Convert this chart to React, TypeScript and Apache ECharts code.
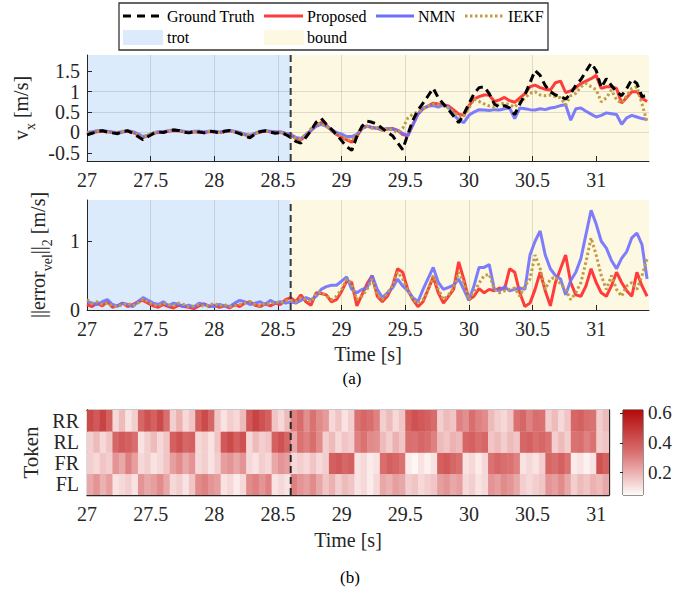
import React, { useEffect, useRef } from "react";
import * as echarts from "echarts";

// ---------------- data ----------------
const T0 = 27; // first sample time [s]
const DT = 0.04; // sample step [s]
const PHASE_SWITCH = 28.6;
const X_MIN = 27;
const X_MAX = 31.415;
const X_TICKS = [27, 27.5, 28, 28.5, 29, 29.5, 30, 30.5, 31];
const VX_MIN = -0.7;
const VX_MAX = 1.9;
const VX_TICKS = [-0.5, 0, 0.5, 1, 1.5];
const ERR_MIN = 0;
const ERR_MAX = 1.6;
const ERR_TICKS = [0, 1];
const PHASES = [
  [27, 28.6, 0],
  [28.6, 31.42, 1],
];

const GT = [
  -0.06, -0.02, 0.03, 0.04, 0.01, -0.01, -0.03, 0.02, 0.04, -0.02, -0.1, -0.18, -0.1, -0.03, 0.01, 0.0, 0.04, 0.06, 0.05, 0.01,
  -0.01, 0.02, 0.01, -0.01, 0.03, 0.02, -0.02, 0.03, 0.05, 0.01, -0.03, -0.09, -0.13, -0.04, 0.02, 0.04, 0.01, -0.02, 0.0, -0.05,
  -0.12, -0.22, -0.26, -0.12, 0.05, 0.25, 0.34, 0.2, 0.08, -0.05, -0.2, -0.35, -0.44, -0.1, 0.15, 0.28, 0.25, 0.2, 0.1, 0.0,
  -0.08, -0.25, -0.42, -0.05, 0.3, 0.55, 0.72, 0.9, 1.08, 0.85, 0.7, 0.56, 0.4, 0.24, 0.45, 0.7, 0.95, 1.1, 1.12, 0.95,
  0.7, 0.62, 0.66, 0.6, 0.44, 0.7, 0.92, 1.22, 1.52, 1.4, 1.15, 1.0, 0.92, 0.88, 0.82, 0.95, 1.16, 1.3, 1.5, 1.7,
  1.52, 1.1, 1.32, 1.15, 1.0, 0.9, 1.08, 1.3, 1.2, 0.88, 0.9,
];
const PROPOSED = [
  -0.03, 0.0, 0.02, 0.03, 0.02, 0.0, -0.01, 0.01, 0.03, 0.0, -0.06, -0.12, -0.08, -0.02, 0.0, 0.01, 0.03, 0.05, 0.04, 0.02,
  0.0, 0.01, 0.02, 0.0, 0.02, 0.02, 0.0, 0.02, 0.04, 0.02, -0.01, -0.06, -0.09, -0.03, 0.01, 0.03, 0.02, 0.0, 0.0, -0.03,
  -0.05, -0.15, -0.18, -0.08, 0.05, 0.18, 0.24, 0.18, 0.05, -0.05, -0.12, -0.18, -0.24, -0.1, 0.1, 0.16, 0.12, 0.1, 0.06, 0.08,
  0.1, 0.05, -0.05, -0.08, 0.2, 0.45, 0.58, 0.65, 0.72, 0.7, 0.68, 0.65, 0.55, 0.45, 0.42, 0.65, 0.82, 0.88, 0.92, 0.92,
  0.76, 0.8, 0.86, 0.78, 0.74, 0.85, 0.95, 1.12, 1.16, 1.1, 1.06, 1.04, 1.22, 1.26, 0.98, 1.02, 1.1, 1.2, 1.26, 1.32,
  1.4, 1.08, 1.12, 1.12, 1.08, 0.72, 0.86, 1.0, 1.0, 0.84, 0.76,
];
const NMN = [
  0.0, 0.02, 0.04, 0.05, 0.03, 0.01, 0.0, 0.02, 0.04, 0.02, -0.03, -0.1, -0.07, -0.01, 0.02, 0.02, 0.04, 0.06, 0.05, 0.03,
  0.01, 0.03, 0.03, 0.01, 0.03, 0.03, 0.01, 0.03, 0.05, 0.03, 0.0, -0.04, -0.07, -0.02, 0.03, 0.04, 0.03, 0.02, 0.02, -0.02,
  -0.05, -0.12, -0.15, -0.05, 0.05, 0.15, 0.2, 0.15, 0.08, 0.0, -0.04, -0.1, -0.1, -0.05, 0.1, 0.15, 0.12, 0.1, 0.08, 0.1,
  0.08, 0.05, -0.02, -0.08, 0.18, 0.45, 0.6, 0.64, 0.66, 0.62, 0.68, 0.62, 0.45, 0.3, 0.24, 0.42, 0.5, 0.56, 0.55, 0.54,
  0.56, 0.55, 0.58, 0.6, 0.34, 0.6, 0.58, 0.56, 0.55, 0.58, 0.56, 0.6, 0.62, 0.66, 0.68, 0.3, 0.58, 0.6, 0.52, 0.45,
  0.38, 0.42, 0.48, 0.46, 0.44, 0.2, 0.36, 0.42, 0.38, 0.34, 0.32,
];
const IEKF = [
  -0.02, 0.01, 0.04, 0.03, 0.02, -0.01, 0.0, 0.03, 0.04, 0.01, -0.05, -0.12, -0.06, -0.01, 0.02, 0.0, 0.04, 0.07, 0.05, 0.02,
  0.0, 0.02, 0.03, -0.01, 0.03, 0.01, 0.0, 0.03, 0.05, 0.01, -0.02, -0.05, -0.08, -0.02, 0.02, 0.04, 0.02, 0.0, 0.01, -0.04,
  -0.05, -0.15, -0.16, -0.05, 0.1, 0.2, 0.22, 0.15, 0.05, -0.05, -0.1, -0.16, -0.2, -0.05, 0.12, 0.15, 0.1, 0.12, 0.05, 0.1,
  0.05, 0.0, 0.1, 0.35, 0.45, 0.5, 0.58, 0.65, 0.7, 0.68, 0.65, 0.6, 0.5, 0.4, 0.4, 0.6, 0.82, 0.76, 0.7, 0.65,
  0.62, 0.7, 0.72, 0.68, 0.62, 0.76, 0.84, 0.96, 1.0, 0.92, 0.9, 0.92, 0.88, 0.85, 0.68, 0.9, 0.96, 1.12, 1.2, 1.12,
  1.05, 0.75, 0.85, 1.04, 0.8, 0.72, 0.9, 1.08, 1.12, 0.7, 0.26,
];

const ERR_PROPOSED = [
  0.08, 0.05, 0.1, 0.06, 0.12, 0.04, 0.06, 0.1, 0.05, 0.08, 0.12, 0.14, 0.1, 0.06, 0.04, 0.08, 0.05, 0.03, 0.07, 0.05,
  0.04, 0.02, 0.06, 0.09, 0.05, 0.07, 0.04, 0.06, 0.03, 0.08, 0.05, 0.1, 0.12, 0.07, 0.05, 0.09, 0.06, 0.1, 0.08, 0.15,
  0.18, 0.12, 0.22, 0.12, 0.07, 0.25, 0.24, 0.22, 0.12, 0.15, 0.27, 0.42, 0.4, 0.06, 0.22, 0.38, 0.5, 0.2, 0.12, 0.2,
  0.35, 0.6, 0.55, 0.3, 0.15, 0.05, 0.12, 0.3, 0.48, 0.25, 0.1, 0.2, 0.3, 0.7, 0.45, 0.15, 0.2, 0.31, 0.25, 0.3,
  0.28, 0.32, 0.3, 0.6, 0.55, 0.25, 0.05, 0.1, 0.3, 0.55, 0.28, 0.06, 0.4, 0.6, 0.8, 0.4, 0.22, 0.2, 0.35, 0.6,
  0.4, 0.25, 0.2, 0.35, 0.55, 0.4, 0.28, 0.2, 0.55, 0.35, 0.2,
];
const ERR_NMN = [
  0.12, 0.1, 0.08, 0.12, 0.15, 0.08, 0.06, 0.1, 0.08, 0.05, 0.12, 0.18, 0.14, 0.1, 0.08, 0.12, 0.06, 0.1, 0.08, 0.05,
  0.07, 0.04, 0.1, 0.08, 0.06, 0.05, 0.08, 0.06, 0.05, 0.1, 0.14, 0.12, 0.08, 0.1, 0.12, 0.08, 0.14, 0.1, 0.12, 0.1,
  0.12, 0.1, 0.14, 0.18, 0.15, 0.2, 0.3, 0.34, 0.36, 0.36, 0.42, 0.48, 0.3, 0.25, 0.3, 0.32, 0.5, 0.3, 0.18, 0.25,
  0.32, 0.45, 0.35, 0.28, 0.18, 0.12, 0.3, 0.46, 0.62, 0.4, 0.3, 0.33, 0.36, 0.45, 0.3, 0.14, 0.35, 0.62, 0.62, 0.66,
  0.3, 0.28, 0.34, 0.28, 0.3, 0.32, 0.3, 0.8, 1.0, 1.15, 0.8, 0.6, 0.5, 0.45, 0.22, 0.43, 0.55, 0.75, 1.1, 1.45,
  1.25, 1.0, 0.9, 0.72, 0.6, 0.75, 0.85, 1.05, 1.12, 0.95, 0.45,
];
const ERR_IEKF = [
  0.15, 0.1, 0.12, 0.08, 0.1, 0.06, 0.05, 0.08, 0.1, 0.06, 0.1, 0.16, 0.12, 0.08, 0.06, 0.1, 0.08, 0.06, 0.1, 0.08,
  0.05, 0.06, 0.08, 0.05, 0.07, 0.1, 0.06, 0.08, 0.05, 0.06, 0.08, 0.1, 0.12, 0.08, 0.06, 0.1, 0.08, 0.12, 0.1, 0.14,
  0.14, 0.12, 0.18, 0.15, 0.12, 0.24, 0.26, 0.2, 0.15, 0.2, 0.3, 0.45, 0.38, 0.15, 0.2, 0.3, 0.45, 0.22, 0.15, 0.25,
  0.35, 0.55, 0.45, 0.28, 0.15, 0.1, 0.15, 0.3, 0.5, 0.3, 0.15, 0.22, 0.32, 0.55, 0.4, 0.15, 0.25, 0.39, 0.5, 0.52,
  0.3, 0.25, 0.28, 0.3, 0.32, 0.2, 0.35, 0.45, 0.8, 0.6, 0.3, 0.45, 0.48, 0.38, 0.3, 0.15, 0.25, 0.4, 0.7, 1.05,
  0.8, 0.5, 0.3, 0.5, 0.3, 0.2, 0.35, 0.4, 0.3, 0.5, 0.75,
];

// heatmap (attention per token), columns of 0.05 s from 27.0 s
const HM_T0 = 27;
const HM_DT = 0.05;
const HM_X_MAX = 31.1;
const TOKENS = ["FL", "FR", "RL", "RR"]; // bottom -> top
const ATT_RR = [
  0.44, 0.4, 0.46, 0.38, 0.12, 0.18, 0.1, 0.14, 0.36, 0.42, 0.38, 0.44, 0.34, 0.14, 0.2, 0.12, 0.16, 0.38, 0.44, 0.36,
  0.16, 0.1, 0.14, 0.12, 0.18, 0.4, 0.46, 0.42, 0.38, 0.16, 0.12, 0.18, 0.3, 0.35, 0.27, 0.33, 0.28, 0.25, 0.12, 0.16,
  0.1, 0.14, 0.33, 0.36, 0.34, 0.3, 0.14, 0.18, 0.12, 0.16, 0.38, 0.42, 0.4, 0.38, 0.35, 0.14, 0.18, 0.16, 0.3, 0.27,
  0.34, 0.3, 0.28, 0.18, 0.14, 0.12, 0.16, 0.33, 0.36, 0.3, 0.34, 0.33, 0.14, 0.18, 0.12, 0.16, 0.36, 0.38, 0.34, 0.33,
  0.14, 0.18,
];
const ATT_RL = [
  0.14, 0.18, 0.12, 0.16, 0.36, 0.4, 0.38, 0.34, 0.1, 0.14, 0.18, 0.12, 0.16, 0.38, 0.42, 0.36, 0.38, 0.12, 0.14, 0.1,
  0.16, 0.4, 0.44, 0.38, 0.42, 0.12, 0.18, 0.14, 0.16, 0.38, 0.42, 0.36, 0.22, 0.33, 0.3, 0.34, 0.28, 0.14, 0.18, 0.12,
  0.16, 0.14, 0.3, 0.33, 0.28, 0.27, 0.18, 0.14, 0.2, 0.16, 0.34, 0.33, 0.36, 0.34, 0.3, 0.18, 0.16, 0.2, 0.18, 0.36,
  0.38, 0.34, 0.36, 0.16, 0.18, 0.14, 0.18, 0.16, 0.36, 0.38, 0.34, 0.36, 0.33, 0.14, 0.18, 0.14, 0.33, 0.34, 0.3, 0.33,
  0.14, 0.16,
];
const ATT_FR = [
  0.14, 0.12, 0.16, 0.14, 0.26, 0.22, 0.3, 0.24, 0.12, 0.14, 0.1, 0.12, 0.16, 0.24, 0.28, 0.22, 0.26, 0.12, 0.14, 0.1,
  0.14, 0.24, 0.26, 0.22, 0.26, 0.12, 0.1, 0.14, 0.12, 0.22, 0.26, 0.24, 0.12, 0.14, 0.12, 0.16, 0.12, 0.14, 0.38, 0.4,
  0.36, 0.38, 0.1, 0.12, 0.08, 0.1, 0.34, 0.38, 0.36, 0.33, 0.08, 0.06, 0.1, 0.07, 0.1, 0.38, 0.4, 0.36, 0.34, 0.1,
  0.12, 0.08, 0.12, 0.33, 0.36, 0.34, 0.33, 0.3, 0.1, 0.12, 0.1, 0.14, 0.36, 0.34, 0.38, 0.33, 0.08, 0.1, 0.07, 0.1,
  0.42, 0.38,
];
const ATT_FL = [
  0.22, 0.26, 0.2, 0.24, 0.1, 0.12, 0.14, 0.1, 0.26, 0.22, 0.24, 0.28, 0.22, 0.12, 0.14, 0.1, 0.16, 0.28, 0.3, 0.26,
  0.24, 0.1, 0.12, 0.08, 0.12, 0.28, 0.3, 0.26, 0.3, 0.1, 0.12, 0.1, 0.3, 0.26, 0.24, 0.28, 0.22, 0.16, 0.2, 0.14,
  0.18, 0.16, 0.1, 0.12, 0.08, 0.12, 0.22, 0.2, 0.24, 0.22, 0.14, 0.16, 0.12, 0.14, 0.16, 0.24, 0.26, 0.22, 0.24, 0.12,
  0.14, 0.1, 0.12, 0.26, 0.24, 0.28, 0.26, 0.22, 0.14, 0.12, 0.14, 0.16, 0.26, 0.24, 0.28, 0.22, 0.14, 0.18, 0.16, 0.2,
  0.18, 0.22,
];
const CB_MIN = 0.05;
const CB_MAX = 0.62;
const CB_TICKS = [0.2, 0.4, 0.6];

// ---------------- styles ----------------
const FONT = "Liberation Serif, Times New Roman, serif";
const AX = "#262626";
const GRIDC = "rgba(40,40,40,0.14)";
const C_PROP = "#ff3b3b";
const C_NMN = "#6f6fff";
const C_IEKF = "#c19d42";
const C_GT = "#000000";
const C_TROT = "#dcebfb";
const C_BOUND = "#fdf8e1";
const CMAP = ["#fffafa", "#da7070", "#b20a0a"];
const FS = 20;
const LW = 3;

const pairs = (vals: number[]) => vals.map((v, i) => [+(T0 + i * DT).toFixed(3), v]);

function buildOption(): any {
  const tickStyle = { color: AX, width: 1 };
  const lineX = (gi: number, withName: boolean) => ({
    gridIndex: gi,
    type: "value",
    min: X_MIN,
    max: X_MAX,
    interval: 0.5,
    axisLine: { show: true, onZero: false, lineStyle: { color: AX, width: 1 } },
    axisTick: { show: true, inside: true, length: 5, customValues: X_TICKS, lineStyle: tickStyle },
    axisLabel: { customValues: X_TICKS, margin: 9, fontSize: FS, fontFamily: FONT, color: AX },
    splitLine: { show: true, showMinLine: false, showMaxLine: false, lineStyle: { color: GRIDC, width: 1 } },
    name: withName ? "Time [s]" : "",
    nameLocation: "middle",
    nameGap: 34,
    nameTextStyle: { fontSize: FS, fontFamily: FONT, color: AX },
  });

  const bgSeries = (gi: number) => ({
    type: "custom",
    xAxisIndex: gi,
    yAxisIndex: gi,
    z: -1,
    silent: true,
    clip: true,
    data: PHASES,
    renderItem: (params: any, api: any) => {
      const cs = params.coordSys;
      const x0 = api.coord([api.value(0), 0])[0];
      const x1 = api.coord([api.value(1), 0])[0];
      return {
        type: "rect",
        shape: { x: x0, y: cs.y, width: x1 - x0, height: cs.height },
        style: { fill: api.value(2) === 0 ? C_TROT : C_BOUND },
      };
    },
  });

  const ln = (name: string, gi: number, vals: number[], color: string, extra: any = {}) => ({
    name,
    type: "line",
    xAxisIndex: gi,
    yAxisIndex: gi,
    data: pairs(vals),
    showSymbol: false,
    symbol: "none",
    silent: true,
    lineStyle: { color, width: LW, ...extra },
    z: 3,
  });

  const switchLine = (gi: number, y0: number, y1: number, color: string) => ({
    type: "line",
    xAxisIndex: gi,
    yAxisIndex: gi,
    data: [
      [PHASE_SWITCH, y0],
      [PHASE_SWITCH, y1],
    ],
    showSymbol: false,
    symbol: "none",
    silent: true,
    lineStyle: { color, width: 2, type: [7, 4] },
    z: 6,
  });

  const hmData: number[][] = [];
  [ATT_FL, ATT_FR, ATT_RL, ATT_RR].forEach((row, r) => {
    row.forEach((v, i) => hmData.push([+(HM_T0 + i * HM_DT).toFixed(3), r, v]));
  });

  const nameRich = {
    n: { fontSize: FS, fontFamily: FONT, color: AX, padding: [0, 0, 6, 0] },
    s: { fontSize: 14, fontFamily: FONT, color: AX, verticalAlign: "bottom" },
  };

  const legendY1 = 16;
  const legendY2 = 37;
  const legText = (x: number, y: number, t: string) => ({
    type: "text",
    z: 12,
    x,
    y,
    style: { text: t, fontSize: 16, fontFamily: FONT, fill: "#000000", verticalAlign: "middle", align: "left" },
  });
  const legLine = (x1: number, x2: number, color: string, dash?: number[]) => ({
    type: "line",
    z: 12,
    shape: { x1, y1: legendY1, x2, y2: legendY1 },
    style: dash ? { stroke: color, lineWidth: LW, lineDash: dash } : { stroke: color, lineWidth: LW },
  });

  return {
    animation: false,
    backgroundColor: "#ffffff",
    textStyle: { fontFamily: FONT },
    grid: [
      { left: 87, top: 55, width: 562, height: 106 },
      { left: 87, top: 200, width: 562, height: 110 },
      { left: 87, top: 410, width: 522, height: 85 },
      { left: 623, top: 410, width: 20, height: 85, show: true, borderColor: AX, borderWidth: 1, backgroundColor: "transparent" },
    ],
    xAxis: [
      lineX(0, false),
      lineX(1, true),
      {
        gridIndex: 2,
        type: "value",
        min: X_MIN,
        max: HM_X_MAX,
        interval: 0.5,
        axisLine: { show: true, onZero: false, lineStyle: { color: AX, width: 1.3 } },
        axisTick: { show: true, inside: true, length: 5, customValues: X_TICKS, lineStyle: tickStyle },
        axisLabel: { customValues: X_TICKS, margin: 9, fontSize: FS, fontFamily: FONT, color: AX },
        splitLine: { show: false },
        name: "Time [s]",
        nameLocation: "middle",
        nameGap: 35,
        nameTextStyle: { fontSize: FS, fontFamily: FONT, color: AX },
      },
      {
        gridIndex: 2,
        type: "value",
        position: "top",
        min: X_MIN,
        max: HM_X_MAX,
        interval: 0.5,
        axisLine: { show: true, onZero: false, lineStyle: { color: AX, width: 1.3 } },
        axisTick: { show: true, inside: true, length: 5, customValues: X_TICKS, lineStyle: tickStyle },
        axisLabel: { show: false },
        splitLine: { show: false },
      },
      { gridIndex: 3, type: "value", min: 0, max: 1, show: false },
    ],
    yAxis: [
      {
        gridIndex: 0,
        type: "value",
        min: VX_MIN,
        max: VX_MAX,
        axisLine: { show: true, onZero: false, lineStyle: { color: AX, width: 1 } },
        axisTick: { show: true, inside: true, length: 5, customValues: VX_TICKS, lineStyle: tickStyle },
        axisLabel: { customValues: VX_TICKS, margin: 7, fontSize: FS, fontFamily: FONT, color: AX },
        splitLine: { show: true, showMinLine: false, showMaxLine: false, lineStyle: { color: GRIDC, width: 1 } },
        name: "{n|v}{s|x}{n| [m/s]}",
        nameLocation: "middle",
        nameRotate: 90,
        nameGap: 48,
        nameTextStyle: { rich: nameRich },
      },
      {
        gridIndex: 1,
        type: "value",
        min: ERR_MIN,
        max: ERR_MAX,
        axisLine: { show: true, onZero: false, lineStyle: { color: AX, width: 1 } },
        axisTick: { show: true, inside: true, length: 5, customValues: ERR_TICKS, lineStyle: tickStyle },
        axisLabel: { customValues: ERR_TICKS, margin: 7, fontSize: FS, fontFamily: FONT, color: AX },
        splitLine: { show: true, showMinLine: false, showMaxLine: false, lineStyle: { color: GRIDC, width: 1 } },
        name: "{n|||error}{s|vel}{n|||}{s|2}{n| [m/s]}",
        nameLocation: "middle",
        nameRotate: 90,
        nameGap: 33,
        nameTextStyle: { rich: nameRich },
      },
      {
        gridIndex: 2,
        type: "value",
        min: -0.5,
        max: 3.5,
        axisLine: { show: true, onZero: false, lineStyle: { color: AX, width: 1.3 } },
        axisTick: { show: true, inside: true, length: 5, customValues: [0, 1, 2, 3], lineStyle: tickStyle },
        axisLabel: {
          customValues: [0, 1, 2, 3],
          margin: 8,
          fontSize: FS,
          fontFamily: FONT,
          color: AX,
          formatter: (v: number) => TOKENS[Math.round(v)] ?? "",
        },
        splitLine: { show: false },
        name: "Token",
        nameLocation: "middle",
        nameRotate: 90,
        nameGap: 42,
        nameTextStyle: { fontSize: FS + 1, fontFamily: FONT, color: AX },
      },
      {
        gridIndex: 2,
        type: "value",
        position: "right",
        min: -0.5,
        max: 3.5,
        axisLine: { show: true, onZero: false, lineStyle: { color: AX, width: 1.3 } },
        axisTick: { show: true, inside: true, length: 5, customValues: [0, 1, 2, 3], lineStyle: tickStyle },
        axisLabel: { show: false },
        splitLine: { show: false },
      },
      {
        gridIndex: 3,
        type: "value",
        position: "right",
        min: CB_MIN,
        max: CB_MAX,
        axisLine: { show: false },
        axisTick: { show: true, inside: true, length: 3, customValues: CB_TICKS, lineStyle: tickStyle },
        axisLabel: { customValues: CB_TICKS, margin: 5, fontSize: 19, fontFamily: FONT, color: AX },
        splitLine: { show: false },
      },
    ],
    visualMap: [
      {
        type: "continuous",
        show: false,
        min: CB_MIN,
        max: CB_MAX,
        dimension: 2,
        seriesIndex: 9,
        inRange: { color: CMAP },
      },
    ],
    series: [
      bgSeries(0),
      bgSeries(1),
      ln("Proposed", 0, PROPOSED, C_PROP),
      ln("NMN", 0, NMN, C_NMN, { opacity: 0.9 }),
      ln("IEKF", 0, IEKF, C_IEKF, { type: [2.5, 2.5] }),
      ln("Ground Truth", 0, GT, C_GT, { type: [8, 5] }),
      ln("Proposed", 1, ERR_PROPOSED, C_PROP),
      ln("NMN", 1, ERR_NMN, C_NMN, { opacity: 0.9 }),
      ln("IEKF", 1, ERR_IEKF, C_IEKF, { type: [2.5, 2.5] }),
      {
        type: "custom",
        xAxisIndex: 2,
        yAxisIndex: 2,
        silent: true,
        clip: true,
        data: hmData,
        renderItem: (_p: any, api: any) => {
          const t = api.value(0);
          const r = api.value(1);
          const p0 = api.coord([t, r + 0.5]);
          const p1 = api.coord([t + HM_DT, r - 0.5]);
          return {
            type: "rect",
            shape: { x: p0[0], y: p0[1], width: p1[0] - p0[0] + 0.6, height: p1[1] - p0[1] + 0.3 },
            style: { fill: api.visual("color") },
          };
        },
      },
      switchLine(0, VX_MIN, VX_MAX, "#3a3a3a"),
      switchLine(1, ERR_MIN, ERR_MAX, "#3a3a3a"),
      switchLine(2, -0.5, 3.5, "#262626"),
      {
        type: "custom",
        xAxisIndex: 4,
        yAxisIndex: 4,
        silent: true,
        data: [[0, CB_MIN, CB_MAX]],
        renderItem: (_p: any, api: any) => {
          const p0 = api.coord([0, api.value(2)]);
          const p1 = api.coord([1, api.value(1)]);
          return {
            type: "rect",
            shape: { x: p0[0], y: p0[1], width: p1[0] - p0[0], height: p1[1] - p0[1] },
            style: {
              fill: new echarts.graphic.LinearGradient(0, 1, 0, 0, [
                { offset: 0, color: CMAP[0] },
                { offset: 0.5, color: CMAP[1] },
                { offset: 1, color: CMAP[2] },
              ]),
            },
          };
        },
      },
    ],
    graphic: [
      {
        type: "rect",
        z: 10,
        shape: { x: 119, y: 3, width: 429, height: 47 },
        style: { fill: "#ffffff", stroke: "#333333", lineWidth: 1.3 },
      },
      legLine(123, 163, C_GT, [8, 6]),
      legText(167, legendY1, "Ground Truth"),
      legLine(264, 303, C_PROP),
      legText(307, legendY1, "Proposed"),
      legLine(376, 414, C_NMN),
      legText(418, legendY1, "NMN"),
      legLine(465, 503, C_IEKF, [2.5, 2.5]),
      legText(508, legendY1, "IEKF"),
      { type: "rect", z: 12, shape: { x: 123, y: 30, width: 40, height: 15 }, style: { fill: C_TROT } },
      legText(167, legendY2, "trot"),
      { type: "rect", z: 12, shape: { x: 264, y: 30, width: 40, height: 15 }, style: { fill: C_BOUND } },
      legText(307, legendY2, "bound"),
      {
        type: "text",
        x: 352,
        y: 378,
        style: { text: "(a)", fontSize: 17, fontFamily: FONT, fill: "#000000", align: "center", verticalAlign: "middle" },
      },
      {
        type: "text",
        x: 350,
        y: 577,
        style: { text: "(b)", fontSize: 17, fontFamily: FONT, fill: "#000000", align: "center", verticalAlign: "middle" },
      },
    ],
  };
}

export default function App() {
  const ref = useRef<HTMLDivElement>(null);
  useEffect(() => {
    if (!ref.current) return;
    const chart = echarts.init(ref.current, null, { renderer: "svg" });
    chart.setOption(buildOption());
    return () => chart.dispose();
  }, []);
  return (
    <div
      ref={ref}
      style={{ position: "absolute", left: 0, top: 0, width: 693, height: 593, background: "#ffffff" }}
    />
  );
}
